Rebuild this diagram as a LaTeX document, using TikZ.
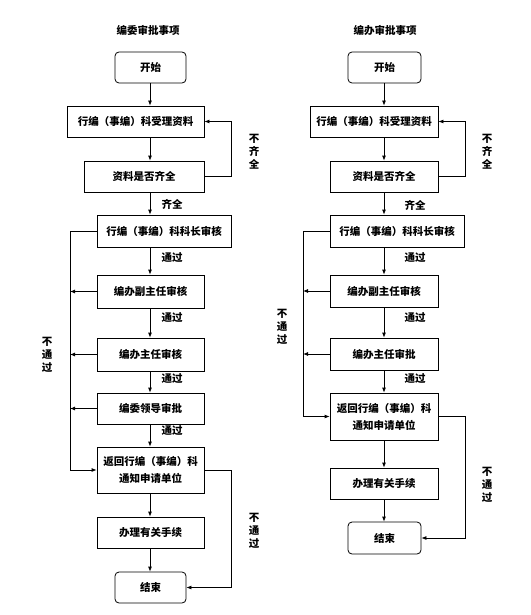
\documentclass[tikz,border=0pt]{standalone}
\usepackage{fontspec}
\newfontfamily\cjk{Noto Sans CJK SC}
\usetikzlibrary{arrows.meta, positioning}

\begin{document}
\begin{tikzpicture}[x=1pt,y=-1pt,line width=0.8pt,>={Latex[length=5pt,width=4pt]},
        every node/.style={font=\cjk\bfseries\fontsize{10.5}{13}\selectfont},
        proc/.style={draw,line width=0.8pt,inner sep=0pt,align=center},
        term/.style={proc,rounded corners=4pt},
        twoline/.style={proc,font=\cjk\bfseries\fontsize{10.5}{17}\selectfont},
        note/.style={inner sep=0pt,align=center}]
        \useasboundingbox (0,0) rectangle (530,615);

        % left chart
        \node[note] (titleA) at (148,30) {编委审批事项};
        \node[term,minimum width=71pt,minimum height=31pt] (kaishiA) at (150.5,67.5) {开始};
        \node[proc,minimum width=137pt,minimum height=31pt] (shouliA) at (135.5,121.5) {行编（事编）科受理资料};
        \node[proc,minimum width=120pt,minimum height=31pt] (qiquanA) at (144,176.5) {资料是否齐全};
        \node[proc,minimum width=134pt,minimum height=32pt] (kezhangA) at (164,231) {行编（事编）科科长审核};
        \node[proc,minimum width=107pt,minimum height=33pt] (fuzhurenA) at (150.5,291.5) {编办副主任审核};
        \node[proc,minimum width=107pt,minimum height=33pt] (zhurenA) at (150.5,354.5) {编办主任审核};
        \node[proc,minimum width=107pt,minimum height=31pt] (lingdaoA) at (150.5,408.5) {编委领导审批};
        \node[twoline,minimum width=107pt,minimum height=46pt] (fanhuiA) at (150.5,470) {返回行编（事编）科\\通知申请单位};
        \node[proc,minimum width=107pt,minimum height=31pt] (banliA) at (150.5,532.5) {办理有关手续};
        \node[term,minimum width=71pt,minimum height=31pt] (jieshuA) at (150.5,587.5) {结束};

        \coordinate (axA) at (150,0);
        \coordinate (lbA) at (70,0);
        \coordinate (rbA) at (231,0);

        \foreach \a/\b in {kaishiA/shouliA,shouliA/qiquanA,qiquanA/kezhangA,kezhangA/fuzhurenA,
                fuzhurenA/zhurenA,zhurenA/lingdaoA,lingdaoA/fanhuiA,fanhuiA/banliA,banliA/jieshuA}
            \draw[->] (axA |- \a.south) -- (axA |- \b.north);
        \draw[->] (qiquanA.east) -| (rbA |- shouliA.east) -- (shouliA.east);
        \draw[->] (kezhangA.west) -| (lbA |- fanhuiA.west) -- (fanhuiA.west);
        \foreach \n in {fuzhurenA,zhurenA,lingdaoA}
            \draw[->] (\n.west) -- (lbA |- \n.west);
        \draw[->] (fanhuiA.east) -| (rbA |- jieshuA.east) -- (jieshuA.east);

        \node[note] at (254,152) {不\\齐\\全};
        \node[note] at (172,204) {齐全};
        \foreach \y in {258,318,379,431}
            \node[note] at (172,\y) {通过};
        \node[note] at (47,355) {不\\通\\过};
        \node[note] at (254,531) {不\\通\\过};

        % right chart
        \node[note] (titleB) at (385,30) {编办审批事项};
        \node[term,minimum width=73pt,minimum height=31pt] (kaishiB) at (384.5,67.5) {开始};
        \node[proc,minimum width=128pt,minimum height=31pt] (shouliB) at (374,121.5) {行编（事编）科受理资料};
        \node[proc,minimum width=108pt,minimum height=31pt] (qiquanB) at (384,176.5) {资料是否齐全};
        \node[proc,minimum width=134pt,minimum height=32pt] (kezhangB) at (397,231) {行编（事编）科科长审核};
        \node[proc,minimum width=108pt,minimum height=32pt] (fuzhurenB) at (384,291) {编办副主任审核};
        \node[proc,minimum width=108pt,minimum height=32pt] (zhurenB) at (384,354) {编办主任审批};
        \node[twoline,minimum width=108pt,minimum height=47pt] (fanhuiB) at (384,416.5) {返回行编（事编）科\\通知申请单位};
        \node[proc,minimum width=108pt,minimum height=31pt] (banliB) at (384,483.5) {办理有关手续};
        \node[term,minimum width=73pt,minimum height=32pt] (jieshuB) at (384.5,538) {结束};

        \coordinate (axB) at (384,0);
        \coordinate (lbB) at (303,0);
        \coordinate (rbB) at (465,0);

        \foreach \a/\b in {kaishiB/shouliB,shouliB/qiquanB,qiquanB/kezhangB,kezhangB/fuzhurenB,
                fuzhurenB/zhurenB,zhurenB/fanhuiB,fanhuiB/banliB,banliB/jieshuB}
            \draw[->] (axB |- \a.south) -- (axB |- \b.north);
        \draw[->] (qiquanB.east) -| (rbB |- shouliB.east) -- (shouliB.east);
        \draw[->] (kezhangB.west) -| (lbB |- fanhuiB.west) -- (fanhuiB.west);
        \foreach \n in {fuzhurenB,zhurenB}
            \draw[->] (\n.west) -- (lbB |- \n.west);
        \draw[->] (fanhuiB.east) -| (rbB |- jieshuB.east) -- (jieshuB.east);

        \node[note] at (487,152) {不\\齐\\全};
        \node[note] at (415,205) {齐全};
        \foreach \y in {258,318,379}
            \node[note] at (415,\y) {通过};
        \node[note] at (282,327) {不\\通\\过};
        \node[note] at (487,485) {不\\通\\过};
    \end{tikzpicture}
\end{document}
